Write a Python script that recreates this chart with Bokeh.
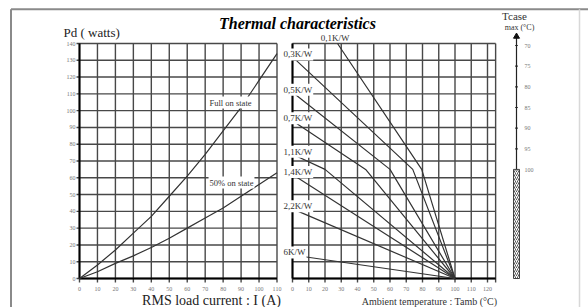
from bokeh.plotting import figure
from bokeh.models import Range1d
from bokeh.core.properties import value
from bokeh.embed import file_html
from bokeh.resources import INLINE

# ---------------- data ----------------
amps = [0, 10, 20, 30, 40, 50, 60, 70, 80, 90, 100, 110]
full_on_w = [0, 8, 17, 27, 37, 49, 61, 74, 88, 102, 118, 134]
half_on_w = [0, 4, 9, 13.5, 18.5, 24, 30, 36, 42, 49, 56, 63]

amp_ticks = list(range(0, 111, 10))
watt_ticks = list(range(0, 141, 10))
tamb_ticks = list(range(0, 121, 10))
tamb_end = 125
tcase_ticks = [70, 75, 80, 85, 90, 95, 100]
tcase_limit_w = 65

rth_labels = ["0,1K/W", "0,3K/W", "0,5K/W", "0,7K/W", "1,1K/W", "1,4K/W", "2,2K/W", "6K/W"]
rth_tamb = [[27.7, 79.5, 100], [0, 74, 100], [0, 60, 100], [0, 45, 100],
            [0, 20, 100], [0, 100], [0, 100], [0, 100]]
rth_pd = [[140, 65, 0], [132, 65, 0], [111, 65, 0], [94, 65, 0],
          [74, 65, 0], [62, 0], [41.5, 0], [14, 0]]

# ---------------- layout (image pixel anchors) ----------------
W, H, OFF = 588, 307, 0
AX0, AX110 = 79, 276.5       # amps axis
PY0, PY140 = 278, 43         # watts axis
TX0, TX120 = 292, 487        # ambient temp axis
TC70, TC100 = 45, 169        # tcase scale


def make_range(v1, p1, v2, p2, axis):
    k = (v2 - v1) / (p2 - p1)
    if axis == "x":
        c0, c1 = OFF, OFF + W
    else:
        c0, c1 = OFF + H, OFF
    return Range1d(start=v1 + (c0 - p1) * k, end=v1 + (c1 - p1) * k)


def px_amp(px):
    return (px - AX0) * 110 / (AX110 - AX0)


def px_watt(py):
    return (PY0 - py) * 140 / (PY0 - PY140)


def px_tamb(px):
    return (px - TX0) * 120 / (TX120 - TX0)


def px_tcase(py):
    return 70 + (py - TC70) * 30 / (TC100 - TC70)


p = figure(width=W, height=H, min_border=0, toolbar_location=None,
           output_backend="svg", x_axis_type=None, y_axis_type=None,
           x_range=make_range(0, AX0, 110, AX110, "x"),
           y_range=make_range(0, PY0, 140, PY140, "y"))
p.extra_x_ranges = {"tamb": make_range(0, TX0, 120, TX120, "x")}
p.extra_y_ranges = {"tcase": make_range(70, TC70, 100, TC100, "y")}
p.outline_line_color = None
p.background_fill_color = "white"
p.border_fill_color = "white"

SERIF = value("Liberation Serif")
GRID = "#484848"
GW = 1.4

# outer frame of the figure sheet
p.line(x=[px_amp(10.5), px_amp(10.5)], y=[px_watt(8.8), px_watt(320)],
       line_color="#8a8a8a", line_width=2)
p.line(x=[px_amp(10.5), px_amp(600)], y=[px_watt(8.8), px_watt(8.8)],
       line_color="#8a8a8a", line_width=2)
p.line(x=[px_amp(579), px_amp(579)], y=[px_watt(8.8), px_watt(320)],
       line_color="#d8d8d8", line_width=1.5)

# ---------- left chart: Pd vs RMS current ----------
tick_w = px_watt(PY0 + 4)
tick_a = px_amp(AX0 - 3)
p.multi_line(xs=[[a, a] for a in amp_ticks], ys=[[tick_w, 140] for _ in amp_ticks],
             line_color=GRID, line_width=GW)
p.multi_line(xs=[[tick_a, 110] for _ in watt_ticks], ys=[[w, w] for w in watt_ticks],
             line_color=GRID, line_width=GW)
p.line(x=[0, 0], y=[0, 140], line_color="black", line_width=2)
p.line(x=[0, 110], y=[0, 0], line_color="black", line_width=2)

p.line(x=amps, y=full_on_w, line_color="#333333", line_width=1.2)
p.line(x=amps, y=half_on_w, line_color="#333333", line_width=1.2)

p.text(x=[px_amp(75)] * len(watt_ticks), y=watt_ticks, text=[str(w) for w in watt_ticks],
       text_font=SERIF, text_font_size="6px", text_color="#777777",
       text_align="right", text_baseline="middle")
p.text(x=amp_ticks, y=[px_watt(288)] * len(amp_ticks), text=[str(a) for a in amp_ticks],
       text_font=SERIF, text_font_size="6px", text_color="#777777",
       text_align="center", text_baseline="middle")

p.text(x=[px_amp(230)], y=[px_watt(102)], text=["Full on state"],
       text_font=SERIF, text_font_size="8.5px", text_color="#333333",
       text_align="center", text_baseline="middle",
       background_fill_color="white", padding=1)
p.text(x=[px_amp(231)], y=[px_watt(182)], text=["50% on state"],
       text_font=SERIF, text_font_size="8.5px", text_color="#333333",
       text_align="center", text_baseline="middle",
       background_fill_color="white", padding=1)

# ---------- right chart: Pd vs ambient temperature ----------
tx = tamb_ticks + [tamb_end]
p.multi_line(xs=[[t, t] for t in tx], ys=[[tick_w, 140] for _ in tx],
             line_color=GRID, line_width=GW, x_range_name="tamb")
p.multi_line(xs=[[0, tamb_end] for _ in watt_ticks], ys=[[w, w] for w in watt_ticks],
             line_color=GRID, line_width=GW, x_range_name="tamb")
p.line(x=[0, 0], y=[0, 140], line_color="black", line_width=2, x_range_name="tamb")
p.line(x=[0, tamb_end], y=[0, 0], line_color="black", line_width=2, x_range_name="tamb")

p.multi_line(xs=rth_tamb, ys=rth_pd, line_color="#333333", line_width=1.2,
             x_range_name="tamb")

p.text(x=tamb_ticks, y=[px_watt(288)] * len(tamb_ticks), text=[str(t) for t in tamb_ticks],
       text_font=SERIF, text_font_size="6px", text_color="#777777",
       text_align="center", text_baseline="middle", x_range_name="tamb")

# Rth labels
p.text(x=[rth_tamb[0][0] - 1.5], y=[px_watt(37)], text=[rth_labels[0]],
       text_font=SERIF, text_font_size="9px", text_color="#333333",
       text_align="center", text_baseline="middle", x_range_name="tamb")
p.text(x=[px_tamb(282)] * (len(rth_labels) - 1), y=[pd[0] + 1.5 for pd in rth_pd[1:]],
       text=rth_labels[1:], text_font=SERIF, text_font_size="9px", text_color="#333333",
       text_align="left", text_baseline="middle", x_range_name="tamb",
       background_fill_color="white", padding=1)

# ---------- Tcase max scale ----------
tcx = px_tamb(516)
p.line(x=[tcx, tcx], y=[px_tcase(37), 100], line_color="#222222", line_width=1.2,
       x_range_name="tamb", y_range_name="tcase")
p.scatter(x=[tcx], y=[px_tcase(36)], marker="triangle", size=6, color="#111111",
          x_range_name="tamb", y_range_name="tcase")
p.multi_line(xs=[[tcx - 0.8, tcx + 0.8] for _ in tcase_ticks], ys=[[t, t] for t in tcase_ticks],
             line_color="#222222", line_width=1.2, x_range_name="tamb", y_range_name="tcase")
p.text(x=[px_tamb(524)] * len(tcase_ticks), y=tcase_ticks, text=[str(t) for t in tcase_ticks],
       text_font=SERIF, text_font_size="6px", text_color="#777777",
       text_align="left", text_baseline="middle", x_range_name="tamb", y_range_name="tcase")
p.quad(left=[px_tamb(513)], right=[px_tamb(519)], bottom=[0], top=[tcase_limit_w],
       fill_color="white", line_color="#444444", line_width=1,
       hatch_pattern="/", hatch_color="#555555", hatch_scale=4, hatch_weight=1,
       x_range_name="tamb")

# ---------- titles ----------
p.text(x=[px_tamb(297)], y=[px_watt(23)], text=["Thermal characteristics"],
       text_font=SERIF, text_font_size="16px", text_font_style="bold italic",
       text_color="black", text_align="center", text_baseline="middle", x_range_name="tamb")
p.text(x=[px_amp(63)], y=[px_watt(32)], text=["Pd ( watts)"],
       text_font=SERIF, text_font_size="13px", text_color="#222222",
       text_align="left", text_baseline="middle")
p.text(x=[px_amp(211)], y=[px_watt(300)], text=["RMS load current : I (A)"],
       text_font=SERIF, text_font_size="14px", text_color="#222222",
       text_align="center", text_baseline="middle")
p.text(x=[px_tamb(429)], y=[px_watt(301)], text=["Ambient temperature : Tamb (°C)"],
       text_font=SERIF, text_font_size="10px", text_color="#333333",
       text_align="center", text_baseline="middle", x_range_name="tamb")
p.text(x=[px_tamb(514)], y=[px_watt(15)], text=["Tcase"],
       text_font=SERIF, text_font_size="11px", text_color="#333333",
       text_align="center", text_baseline="middle", x_range_name="tamb")
p.text(x=[px_tamb(519)], y=[px_watt(27)], text=["max (°C)"],
       text_font=SERIF, text_font_size="8px", text_color="#333333",
       text_align="center", text_baseline="middle", x_range_name="tamb")

open("out.html", "w").write(file_html(p, INLINE))
